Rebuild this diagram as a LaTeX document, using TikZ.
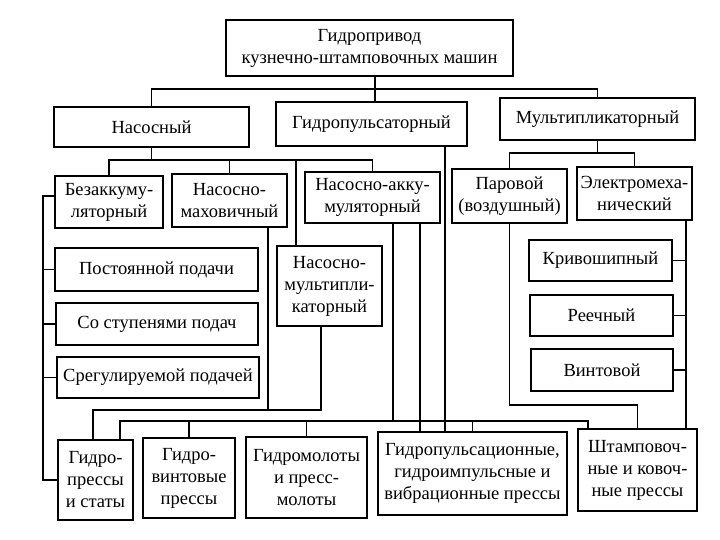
\documentclass[tikz,border=0pt]{standalone}
\usepackage{fontspec}
\setmainfont{Liberation Serif}
\begin{document}
\begin{tikzpicture}[x=1pt,y=-1pt,
  box/.style={draw=black, line width=1.6pt, fill=white, inner sep=0pt, align=center,
    font=\fontsize{18.5}{22}\selectfont},
  conn/.style={draw=black, line width=1.5pt, line cap=rect}]
\fill[white] (0,0) rectangle (720,540);
\useasboundingbox (0,0) rectangle (720,540);
% named levels and columns
\coordinate (yA) at (0,89);
\coordinate (yB) at (0,160);
\coordinate (yC) at (0,153);
\coordinate (yU) at (0,410);
\coordinate (yW) at (0,421);
\coordinate (yP) at (0,405);
\coordinate (xL) at (43,0);
\coordinate (xE) at (686,0);
\coordinate (x375) at (375,0);
\coordinate (x296) at (296,0);
\coordinate (x268) at (268,0);
\coordinate (x321) at (321,0);
\coordinate (x93) at (93,0);
\coordinate (x120) at (120,0);
\coordinate (x393) at (393,0);
\coordinate (x420) at (420,0);
\coordinate (x445) at (445,0);
\coordinate (x588) at (588,0);
\coordinate (y196) at (0,196);
% boxes
\node[box, minimum width=287pt, minimum height=56pt] (top) at (369.5,48) {Гидропривод\\кузнечно-штамповочных машин};
\node[box, minimum width=195pt, minimum height=40pt] (nas) at (151.5,127) {Насосный};
\node[box, minimum width=191pt, minimum height=44pt] (gp) at (371.5,124) {Гидропульсаторный};
\node[box, minimum width=195pt, minimum height=42pt] (mul) at (597.5,119) {Мультипликаторный};
\node[box, minimum width=108pt, minimum height=52pt] (bez) at (109,202) {Безаккуму-\\ляторный};
\node[box, minimum width=115pt, minimum height=53pt] (nm) at (229.5,200.5) {Насосно-\\маховичный};
\node[box, minimum width=135pt, minimum height=51pt] (na) at (372.5,197.5) {Насосно-акку-\\муляторный};
\node[box, minimum width=115pt, minimum height=54pt] (par) at (509.5,196) {Паровой\\(воздушный)};
\node[box, minimum width=115pt, minimum height=53pt] (em) at (634.5,193.5) {Электромеха-\\нический};
\node[box, minimum width=203pt, minimum height=43pt] (post) at (156.5,269.5) {Постоянной подачи};
\node[box, minimum width=202pt, minimum height=42pt] (stup) at (157,324) {Со ступенями подач};
\node[box, minimum width=202pt, minimum height=41pt] (sreg) at (158,377.5) {Срегулируемой подачей};
\node[box, minimum width=105pt, minimum height=80pt] (nmul) at (329.5,286) {Насосно-\\мультипли-\\каторный};
\node[box, minimum width=143pt, minimum height=41pt] (kriv) at (600.5,260.5) {Кривошипный};
\node[box, minimum width=143pt, minimum height=41pt] (reech) at (601.5,315.5) {Реечный};
\node[box, minimum width=142pt, minimum height=42pt] (vint) at (602,370) {Винтовой};
\node[box, minimum width=75pt, minimum height=80pt] (gpr) at (95.5,480) {Гидро-\\прессы\\и статы};
\node[box, minimum width=92pt, minimum height=80pt] (gvint) at (189,478) {Гидро-\\винтовые\\прессы};
\node[box, minimum width=121pt, minimum height=81pt] (gmol) at (306.5,477.5) {Гидромолоты\\и пресс-\\молоты};
\node[box, minimum width=189pt, minimum height=83pt] (gpuls) at (472.5,473.5) {Гидропульсационные,\\гидроимпульсные и\\вибрационные прессы};
\node[box, minimum width=119pt, minimum height=82pt] (shtamp) at (637.5,470) {Штамповоч-\\ные и ковоч-\\ные прессы};
% level 1
\draw[conn] (top.south -| x375) -- (x375 |- yA);
\draw[conn] (nas.north) |- (mul.north |- yA) -- (mul.north);
\draw[conn] (gp.north -| x375) -- (x375 |- yA);
% pump branch
\draw[conn] (nas.south) -- (nas.south |- yB);
\draw[conn] (bez.north) |- (na.north |- yB) -- (na.north);
\draw[conn] (nm.north) -- (nm.north |- yB);
\draw[conn] (nmul.north -| x296) -- (x296 |- yB);
% multiplier branch
\draw[conn] (mul.south) -- (mul.south |- yC);
\draw[conn] (par.north) |- (em.north |- yC) -- (em.north);
% left bus
\draw[conn] (bez.west |- y196) -- (xL |- y196) -- (gpr.west -| xL) -- (gpr.west);
\draw[conn] (post.west) -- (post.west -| xL);
\draw[conn] (stup.west) -- (stup.west -| xL);
\draw[conn] (sreg.west) -- (sreg.west -| xL);
% U line
\draw[conn] (nm.south -| x268) -- (x268 |- yU) -- (x321 |- yU) -- (nmul.south -| x321);
\draw[conn] (x268 |- yU) -- (x93 |- yU) -- (gpr.north -| x93);
% lower bus
\draw[conn] (na.south -| x393) -- (x393 |- yW);
\draw[conn] (gpr.north -| x120) -- (x120 |- yW) -- (x588 |- yW) -- (shtamp.north -| x588);
\draw[conn] (gvint.north) -- (gvint.north |- yW);
\draw[conn] (gmol.north) -- (gmol.north |- yW);
\draw[conn] (gpuls.north) -- (gpuls.north |- yW);
\draw[conn] (na.south -| x420) -- (gpuls.north -| x420);
\draw[conn] (gp.south -| x445) -- (gpuls.north -| x445);
% steam
\draw[conn] (par.south) -- (par.south |- yP) -- (shtamp.north |- yP) -- (shtamp.north);
% electromechanical
\draw[conn] (em.south -| xE) -- (shtamp.north -| xE);
\draw[conn] (kriv.east) -- (kriv.east -| xE);
\draw[conn] (reech.east) -- (reech.east -| xE);
\draw[conn] (vint.east) -- (vint.east -| xE);
\end{tikzpicture}
\end{document}
